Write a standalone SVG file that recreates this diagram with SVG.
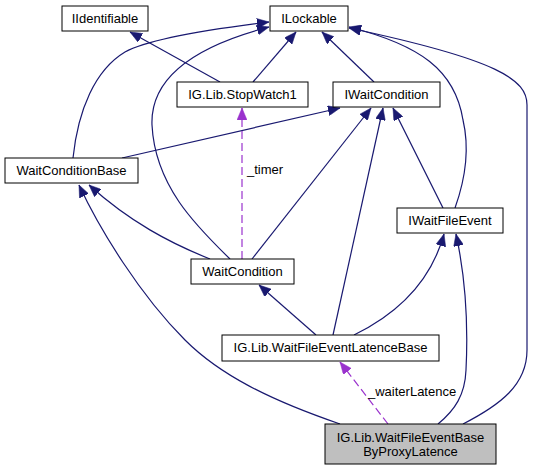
<svg xmlns="http://www.w3.org/2000/svg" width="533" height="471" viewBox="0 0 533 471">
<style>
  .node rect { fill: #ffffff; stroke: #000000; stroke-width: 1; }
  .node.sel rect { fill: #bfbfbf; }
  text { font-family: "Liberation Sans", Arial, sans-serif; font-size: 13px; fill: #000000; }
  .node text { text-anchor: middle; }
  .inh { fill: none; stroke: #191970; stroke-width: 1.2; marker-end: url(#arrNavy); }
  .use { fill: none; stroke: #9a32cd; stroke-width: 1.2; stroke-dasharray: 8,4; marker-end: url(#arrPurple); }
</style>
<defs>
  <marker id="arrNavy" markerUnits="userSpaceOnUse" markerWidth="12" markerHeight="10" refX="12" refY="5" orient="auto" viewBox="0 0 12 10">
    <path d="M0,0 L12,5 L0,10 z" fill="#191970" stroke="#191970" stroke-width="0.5"/>
  </marker>
  <marker id="arrPurple" markerUnits="userSpaceOnUse" markerWidth="12" markerHeight="10" refX="12" refY="5" orient="auto" viewBox="0 0 12 10">
    <path d="M0,0 L12,5 L0,10 z" fill="#9a32cd" stroke="#9a32cd" stroke-width="0.5"/>
  </marker>
</defs>
<rect x="0" y="0" width="533" height="471" fill="#ffffff"/>
<g id="edges">
  <path class="inh" d="M220,82 L130,32"/>
  <path class="inh" d="M253,82 L296,32"/>
  <path class="inh" d="M374,82 L322,32"/>
  <path class="inh" d="M73,158 C78,110 95,70 125,52 C150,38 220,28 269,22"/>
  <path class="inh" d="M230,259 C195,225 155,185 152,125 C150,75 200,45 269,27"/>
  <path class="inh" d="M122,158 L340,108"/>
  <path class="inh" d="M210,259 C170,243 130,222 89,185"/>
  <path class="inh" d="M340,424 C270,400 220,375 185,340 C140,295 100,230 79,185"/>
  <path class="inh" d="M252,259 L371,108"/>
  <path class="inh" d="M316,335 L259,285"/>
  <path class="inh" d="M333,335 L383,108"/>
  <path class="inh" d="M354,335 C395,315 430,285 444,234"/>
  <path class="inh" d="M443,208 L393,108"/>
  <path class="inh" d="M455,208 C465,180 470,150 463,120 C455,70 420,45 349,27"/>
  <path class="inh" d="M438,424 C455,410 465,395 466,370 C468,330 466,280 456,234"/>
  <path class="inh" d="M463,424 C500,405 527,385 527,350 L527,105 C527,80 500,60 349,28"/>
  <path class="use" d="M242,259 L242,108"/>
  <path class="use" d="M388,424 L340,362"/>
  <text x="247" y="174">_timer</text>
  <text x="368" y="396">_waiterLatence</text>
</g>
<g id="IIdentifiable" class="node">
  <rect x="62" y="6" width="86" height="25"/>
  <text x="105" y="22.5">IIdentifiable</text>
</g>
<g id="ILockable" class="node">
  <rect x="270" y="6" width="78" height="25"/>
  <text x="309" y="22.5">ILockable</text>
</g>
<g id="StopWatch1" class="node">
  <rect x="177" y="82" width="131" height="25"/>
  <text x="242.5" y="98.5">IG.Lib.StopWatch1</text>
</g>
<g id="IWaitCondition" class="node">
  <rect x="333" y="82" width="107" height="25"/>
  <text x="386.5" y="98.5">IWaitCondition</text>
</g>
<g id="WaitConditionBase" class="node">
  <rect x="5" y="158" width="133" height="25"/>
  <text x="71.5" y="174.5">WaitConditionBase</text>
</g>
<g id="IWaitFileEvent" class="node">
  <rect x="397" y="208" width="106" height="25"/>
  <text x="450" y="224.5">IWaitFileEvent</text>
</g>
<g id="WaitCondition" class="node">
  <rect x="191" y="259" width="103" height="25"/>
  <text x="242.5" y="275.5">WaitCondition</text>
</g>
<g id="WaitFileEventLatenceBase" class="node">
  <rect x="222" y="335" width="217" height="26"/>
  <text x="330.5" y="352">IG.Lib.WaitFileEventLatenceBase</text>
</g>
<g id="WaitFileEventBaseByProxyLatence" class="node sel">
  <rect x="325" y="424" width="171" height="40"/>
  <text x="410.5" y="442">IG.Lib.WaitFileEventBase</text>
  <text x="410.5" y="456">ByProxyLatence</text>
</g>
</svg>
